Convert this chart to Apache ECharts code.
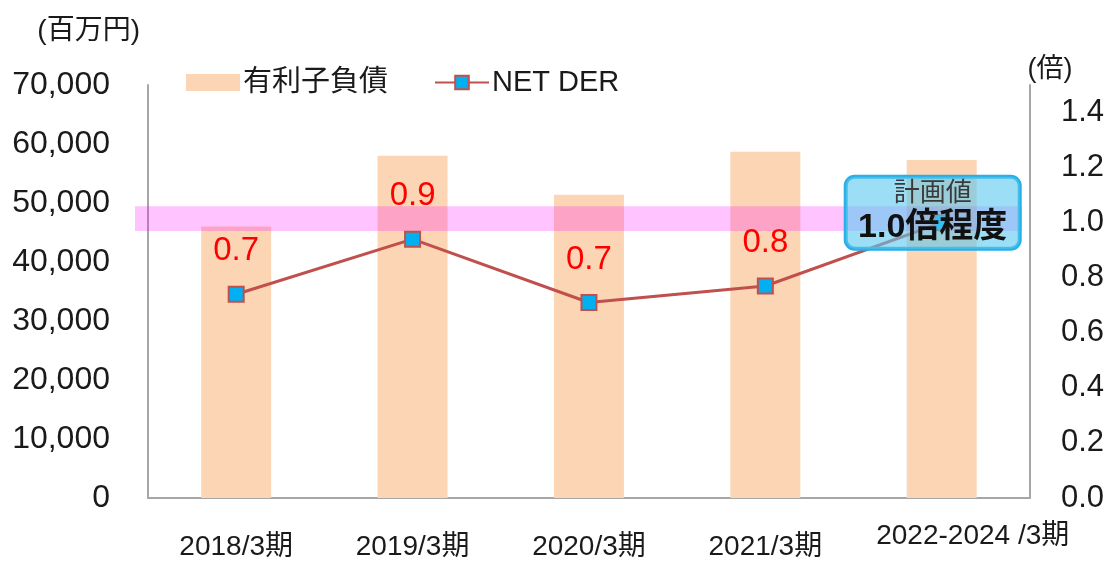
<!DOCTYPE html>
<html>
<head>
<meta charset="utf-8">
<script src="https://cdn.jsdelivr.net/npm/echarts@6/dist/echarts.min.js"></script>
<style>
  html, body { margin: 0; padding: 0; background: #fff; }
  #chart { width: 1107px; height: 561px; }
</style>
</head>
<body>
<div id="chart"></div>
<script>
// データ
const categories = ['2018/3期', '2019/3期', '2020/3期', '2021/3期', '2022-2024 /3期'];
const debtValues = [46000, 58000, 51400, 58700, 57300]; // 有利子負債 (百万円)
const derValues = [0.74, 0.94, 0.71, 0.77, 1.0];       // NET DER (倍)
const planBand = [0.97, 1.06];                          // 計画値 1.0倍程度

const FONT = "'Liberation Sans', 'Noto Sans CJK JP', sans-serif";
const last = categories.length - 1;

const chart = echarts.init(document.getElementById('chart'));

const derData = derValues.map((v, i) => {
    if (i !== last) return v;
    // 最終期は吹き出し
    return {
        value: v,
        label: {
            show: true,
            position: 'inside',
            offset: [-9, -10],
            formatter: (p) => '{a|計画値}\n{b|' + p.value.toFixed(1) + '倍程度}',
            backgroundColor: 'rgba(90, 200, 240, 0.6)',
            borderColor: '#29aee6',
            borderWidth: 2,
            borderRadius: 9,
            padding: [2, 4, 2, 4],
            width: 166,
            align: 'center',
            rich: {
                a: { fontFamily: FONT, fontSize: 26, color: '#3a3a3a', lineHeight: 30, align: 'center' },
                b: { fontFamily: FONT, fontSize: 34, fontWeight: 'bold', color: '#111', lineHeight: 38, align: 'center' }
            }
        }
    };
});

const option = {
    animation: false,
    textStyle: { fontFamily: FONT },
    grid: { left: 148, right: 75, top: 85, bottom: 61 },
    legend: {
        left: 181,
        top: 63,
        itemWidth: 54,
        itemHeight: 17,
        itemGap: 46,
        textStyle: { fontFamily: FONT, fontSize: 29, color: '#1a1a1a', padding: [0, 0, 0, -2] },
        data: [{ name: '有利子負債', icon: 'rect' }, { name: 'NET DER' }]
    },
    xAxis: {
        type: 'category',
        data: categories,
        axisLine: { lineStyle: { color: '#a6a6a6', width: 2 } },
        axisTick: { show: false },
        axisLabel: {
            margin: 24,
            interval: 0,
            formatter: (v, i) => (i === last ? '{b|' + v + '}' : '{a|' + v + '}'),
            rich: {
                a: { fontFamily: FONT, fontSize: 28, color: '#1a1a1a', padding: [11, 0, 0, 0] },
                b: { fontFamily: FONT, fontSize: 28, color: '#1a1a1a', padding: [0, 0, 0, 62] }
            }
        }
    },
    yAxis: [
        {
            type: 'value',
            min: 0,
            max: 70000,
            interval: 10000,
            name: '(百万円)',
            nameLocation: 'end',
            nameGap: 40,
            nameTextStyle: { fontFamily: FONT, fontSize: 28, color: '#1a1a1a', align: 'right', padding: [0, 8, 0, 0] },
            axisLine: { show: true, lineStyle: { color: '#a6a6a6', width: 2 } },
            axisTick: { show: false },
            splitLine: { show: false },
            axisLabel: {
                margin: 38,
                fontSize: 32,
                color: '#1a1a1a',
                formatter: (v) => v.toLocaleString('en-US')
            }
        },
        {
            type: 'value',
            min: 0,
            max: 1.5,
            interval: 0.2,
            name: '(倍)',
            nameLocation: 'end',
            nameGap: 2,
            nameTextStyle: { fontFamily: FONT, fontSize: 27, color: '#1a1a1a', align: 'center', padding: [0, 0, 0, 40] },
            axisLine: { show: true, lineStyle: { color: '#a6a6a6', width: 2 } },
            axisTick: { show: false },
            splitLine: { show: false },
            axisLabel: {
                margin: 31,
                fontSize: 31,
                color: '#1a1a1a',
                showMaxLabel: false,
                formatter: (v) => (v > 1.45 ? '' : v.toFixed(1))
            }
        }
    ],
    series: [
        {
            name: '有利子負債',
            type: 'bar',
            z: 2,
            barWidth: 70,
            itemStyle: { color: '#fcd5b5' },
            data: debtValues
        },
        {
            name: 'NET DER',
            type: 'line',
            yAxisIndex: 1,
            z: 5,
            symbol: 'rect',
            symbolSize: 15,
            lineStyle: { color: '#c0504d', width: 3 },
            itemStyle: { color: '#00b0f0', borderColor: '#c0504d', borderWidth: 2 },
            label: {
                show: true,
                position: 'top',
                distance: 18,
                fontFamily: FONT,
                fontSize: 33,
                color: '#ff0000',
                formatter: (p) => p.value.toFixed(1)
            },
            data: derData
        }
    ]
};

chart.setOption(option);

// 計画値の帯 (右軸 1.0 付近)
const yTop = chart.convertToPixel({ yAxisIndex: 1 }, planBand[1]);
const yBot = chart.convertToPixel({ yAxisIndex: 1 }, planBand[0]);
chart.setOption({
    graphic: [{
        type: 'rect',
        z: 3,
        shape: { x: 135, y: yTop, width: 1022 - 135, height: yBot - yTop },
        style: { fill: 'rgba(255, 0, 255, 0.23)' }
    }]
});

window.addEventListener('resize', () => chart.resize());
</script>
</body>
</html>
